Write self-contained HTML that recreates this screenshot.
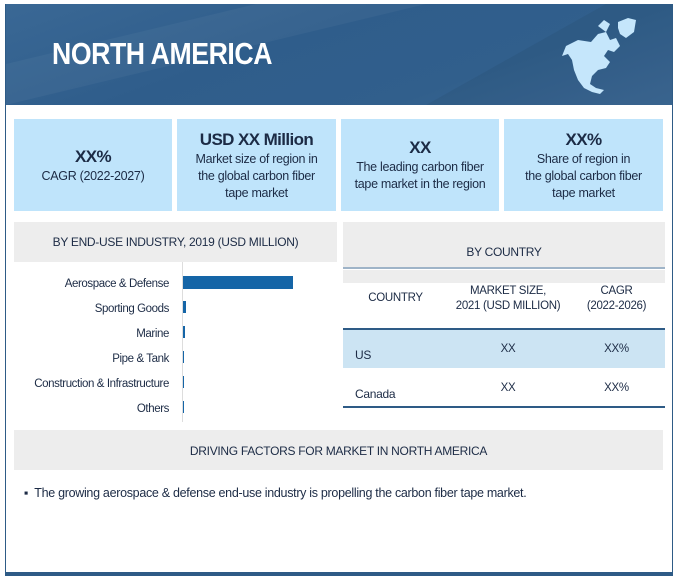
<!DOCTYPE html>
<html><head><meta charset="utf-8">
<style>
*{box-sizing:border-box;margin:0;padding:0}
body{width:677px;height:581px;background:#fff;font-family:"Liberation Sans Narrow","Liberation Sans",sans-serif;color:#1c2b45;position:relative;overflow:hidden;letter-spacing:-0.3px}
.abs{position:absolute}
.frame{left:5px;top:4px;width:668px;height:572px;border:1px solid #2e5b86;border-bottom:4px solid #2e5b86}
.header{left:6px;top:4px;width:666px;height:101px;background:linear-gradient(160deg,#3a6895 0%,#2f5d8b 40%,#315f8c 70%,#3d6a96 100%);overflow:hidden}
.title{left:52px;top:36px;color:#fff;font-weight:bold;font-size:31px;letter-spacing:-0.5px;transform:scaleX(0.86);transform-origin:left}
.box{top:119px;height:92px;background:#bfe4fb;text-align:center;display:flex;flex-direction:column;justify-content:center;font-size:12.5px;line-height:17px;color:#1c2b45}
.box b{font-size:17px;line-height:22px;font-weight:bold;letter-spacing:-0.6px}
.gray{background:#ededed}
.th{font-size:11.5px;text-align:center;line-height:15px}
</style></head><body>
<div class="abs frame"></div>
<div class="abs header">
<svg width="666" height="101" style="position:absolute;left:0;top:0">
<polygon points="0,60 250,0 420,0 0,101" fill="#fff" opacity="0.04"/>
<polygon points="420,101 600,0 666,0 666,101" fill="#000" opacity="0.05"/>
<g fill="#c5e6fb">
<polygon points="560,42 572,36 585,38 592,30 600,28 604,36 610,34 614,42 608,48 602,46 598,52 604,58 600,64 592,66 586,72 584,80 590,84 598,86 594,90 586,88 578,84 572,76 568,66 566,56 562,50 556,52"/>
<polygon points="592,22 598,16 604,20 600,28"/>
<polygon points="612,18 622,14 630,16 628,28 620,34 614,30 612,24"/>
</g>
</svg>
</div>
<div class="abs title">NORTH AMERICA</div>

<div class="abs box" style="left:14px;width:158px"><b>XX%</b>CAGR (2022-2027)</div>
<div class="abs box" style="left:177px;width:159px"><b>USD XX Million</b>Market size of region in<br>the global carbon fiber<br>tape market</div>
<div class="abs box" style="left:341px;width:158px"><b>XX</b>The leading carbon fiber<br>tape market in the region</div>
<div class="abs box" style="left:504px;width:159px"><b>XX%</b>Share of region in<br>the global carbon fiber<br>tape market</div>

<div class="abs gray" style="left:14px;top:222px;width:323px;height:40px;font-size:12px;text-align:center;line-height:40px">BY END-USE INDUSTRY, 2019 (USD MILLION)</div>
<svg class="abs" id="chart" style="left:0;top:262px" width="340" height="160"></svg>

<div class="abs gray" style="left:343px;top:222px;width:322px;height:45px;font-size:12px;text-align:center;line-height:60px">BY COUNTRY</div>
<div class="abs" style="left:343px;top:267px;width:322px;height:2px;background:#9fb4c8"></div>
<div class="abs gray" style="left:343px;top:270px;width:322px;height:13px"></div>
<div class="abs th" style="left:343px;top:291px;width:105px">COUNTRY</div>
<div class="abs th" style="left:448px;top:284px;width:120px">MARKET SIZE,<br>2021 (USD MILLION)</div>
<div class="abs th" style="left:568px;top:284px;width:97px">CAGR<br>(2022-2026)</div>
<div class="abs" style="left:343px;top:328px;width:322px;height:2px;background:#2e5b86"></div>
<div class="abs" style="left:343px;top:330px;width:322px;height:38px;background:#cce4f3"></div>
<div class="abs" style="left:355px;top:348px;font-size:12px">US</div>
<div class="abs th" style="left:448px;top:342px;width:120px">XX</div>
<div class="abs th" style="left:568px;top:342px;width:97px">XX%</div>
<div class="abs" style="left:355px;top:387px;font-size:12px">Canada</div>
<div class="abs th" style="left:448px;top:381px;width:120px">XX</div>
<div class="abs th" style="left:568px;top:381px;width:97px">XX%</div>
<div class="abs" style="left:343px;top:406px;width:322px;height:2px;background:#2e5b86"></div>

<div class="abs gray" style="left:14px;top:430px;width:649px;height:40px;font-size:12px;text-align:center;line-height:42px">DRIVING FACTORS FOR MARKET IN NORTH AMERICA</div>
<div class="abs" style="left:24px;top:486px;font-size:12.5px">▪&nbsp; The growing aerospace &amp; defense end-use industry is propelling the carbon fiber tape market.</div>

<script>
const categories=["Aerospace & Defense","Sporting Goods","Marine","Pipe & Tank","Construction & Infrastructure","Others"];
const values=[110,3,2,1,1,1];
const svg=document.getElementById('chart');
const NS='http://www.w3.org/2000/svg';
const x0=183, xScale=v=>v*1.0, rowH=25, top0=8;
const y=i=>top0+i*rowH;
const ax=document.createElementNS(NS,'line');
ax.setAttribute('x1',x0-0.5);ax.setAttribute('x2',x0-0.5);ax.setAttribute('y1',0);ax.setAttribute('y2',160);
ax.setAttribute('stroke','#ddd');


svg.appendChild(ax);
categories.forEach((c,i)=>{
  const t=document.createElementNS(NS,'text');
  t.setAttribute('x',169);t.setAttribute('y',y(i)+17);t.setAttribute('text-anchor','end');
  t.setAttribute('font-size','11.5');t.setAttribute('fill','#1c2b45');t.setAttribute('letter-spacing','-0.4');
  t.setAttribute('font-family','"Liberation Sans Narrow","Liberation Sans",sans-serif');
  t.textContent=c;
  
  
  svg.appendChild(t);
  const r=document.createElementNS(NS,'rect');
  r.setAttribute('x',x0);r.setAttribute('y',y(i)+6);
  r.setAttribute('width',Math.max(1,xScale(values[i])));r.setAttribute('height',i==0?13:12);
  r.setAttribute('fill','#1565a7');
  
  
  svg.appendChild(r);
});
</script>
</body></html>
